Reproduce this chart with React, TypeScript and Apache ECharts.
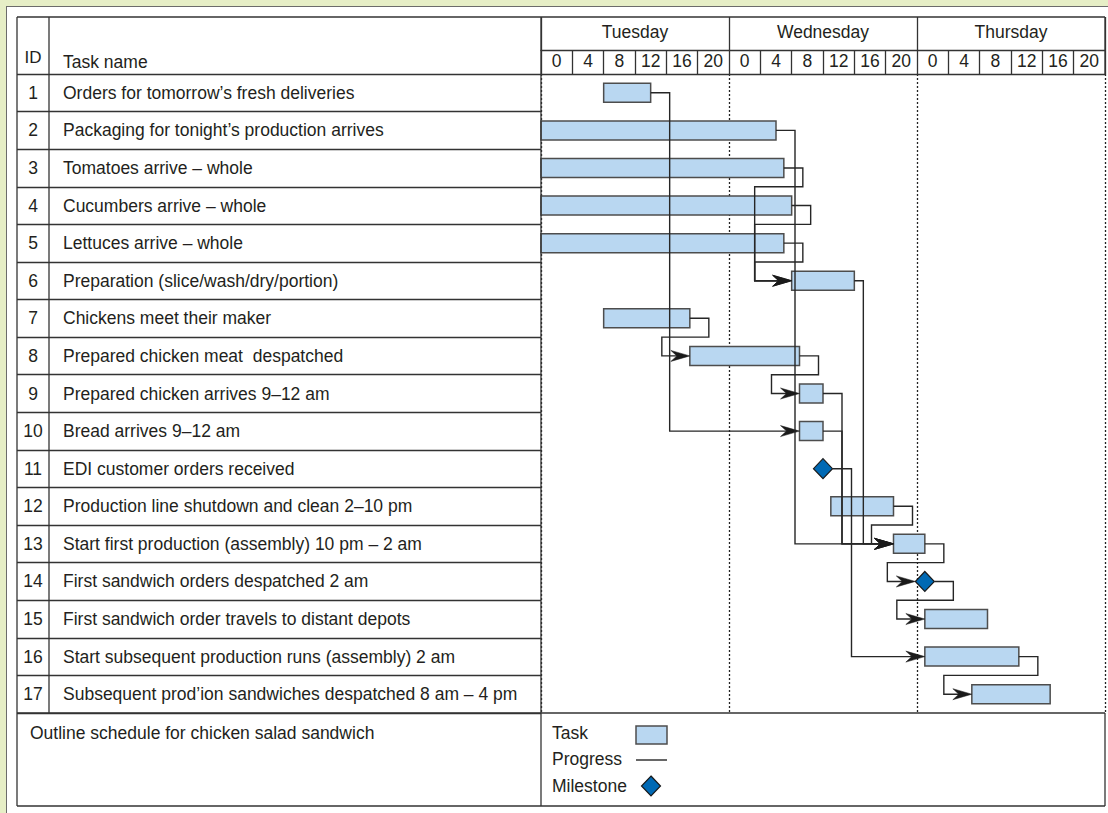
import React, { useEffect, useRef } from "react";
import * as echarts from "echarts";

// ---------- data ----------
const IDS = ["1", "2", "3", "4", "5", "6", "7", "8", "9", "10", "11", "12", "13", "14", "15", "16", "17"];
const TASK_NAMES = [
  "Orders for tomorrow\u2019s fresh deliveries",
  "Packaging for tonight\u2019s production arrives",
  "Tomatoes arrive \u2013 whole",
  "Cucumbers arrive \u2013 whole",
  "Lettuces arrive \u2013 whole",
  "Preparation (slice/wash/dry/portion)",
  "Chickens meet their maker",
  "Prepared chicken meat\u00a0 despatched",
  "Prepared chicken arrives 9\u201312 am",
  "Bread arrives 9\u201312 am",
  "EDI customer orders received",
  "Production line shutdown and clean 2\u201310 pm",
  "Start first production (assembly) 10 pm \u2013 2 am",
  "First sandwich orders despatched 2 am",
  "First sandwich order travels to distant depots",
  "Start subsequent production runs (assembly) 2 am",
  "Subsequent prod\u2019ion sandwiches despatched 8 am \u2013 4 pm",
];
const DAYS = ["Tuesday", "Wednesday", "Thursday"];
const HOUR_TICKS = ["0", "4", "8", "12", "16", "20"];
// hours counted from Tuesday 0:00 (start === end means milestone)
const TASK_START = [8, 0, 0, 0, 0, 32, 8, 19, 33, 33, 36, 37, 45, 49, 49, 49, 55];
const TASK_END = [14, 30, 31, 32, 31, 40, 19, 33, 36, 36, 36, 45, 49, 49, 57, 61, 65];
const LINK_FROM = [1, 2, 3, 4, 5, 6, 7, 8, 9, 10, 11, 12, 13, 14, 16];
const LINK_TO = [10, 13, 6, 6, 6, 13, 8, 9, 13, 13, 16, 13, 14, 15, 17];
const LEGEND_LABELS = ["Task", "Progress", "Milestone"];
const CAPTION = "Outline schedule for chicken salad sandwich";

// ---------- styles ----------
const FONT = "'Liberation Sans', Arial, Helvetica, sans-serif";
const INK = "#231f20";
const RULE = "#333333";
const BAR_FILL = "#b9d7f1";
const BAR_EDGE = "#4d4d4d";
const MS_FILL = "#0069b4";
const FS = 17.5;
const BAR_H = 19;
const MS_W = 19;
const MS_H = 20;
// connector routing style (pixel offsets), by "from-to"
const LOOP_LINKS = ["3-6", "4-6", "5-6", "7-8", "8-9", "12-13", "13-14", "14-15", "16-17"];
const GAP_OVERRIDE: Record<string, number> = { "6-13": 9 };
const BACK_OVERRIDE: Record<string, number> = { "3-6": 37, "4-6": 37, "5-6": 37, "12-13": 22 };

const W = 1108;
const H = 813;
const GL = 541;
const GR = 1105;
const GT = 74;
const GB = 713;
const TL = 17;
const TT = 17;
const TB = 806;

export default function App() {
  const ref = useRef<HTMLDivElement>(null);

  useEffect(() => {
    if (!ref.current) return;
    const chart = echarts.init(ref.current, undefined, { renderer: "svg" });

    const isMs = (i: number) => TASK_START[i] === TASK_END[i];
    const taskData: number[][] = [];
    const msData: number[][] = [];
    TASK_START.forEach((s, i) => {
      if (isMs(i)) msData.push([s, i]);
      else taskData.push([i, s, TASK_END[i]]);
    });
    const linkData = LINK_FROM.map((f, k) => {
      const fi = f - 1;
      const ti = LINK_TO[k] - 1;
      return [fi, TASK_END[fi], ti, TASK_START[ti], isMs(fi) ? 1 : 0, isMs(ti) ? 1 : 0, k];
    });

    const hourCats = DAYS.flatMap((d) => HOUR_TICKS.map((h) => d + "|" + h));

    const line = (x1: number, y1: number, x2: number, y2: number) => ({
      type: "line",
      z: 100,
      shape: { x1, y1, x2, y2 },
      style: { stroke: RULE, lineWidth: 1.3 },
    });
    const text = (t: string, x: number, y: number, align: string, size = FS) => ({
      type: "text",
      z: 100,
      style: {
        text: t,
        x,
        y,
        fill: INK,
        fontSize: size,
        fontFamily: FONT,
        align,
        verticalAlign: "middle",
        textAlign: align,
        textVerticalAlign: "middle",
      },
    });

    const option: any = {
      animation: false,
      textStyle: { fontFamily: FONT },
      grid: { left: GL, right: W - GR, top: GT, bottom: H - GB, containLabel: false },
      xAxis: [
        {
          type: "value",
          position: "bottom",
          min: 0,
          max: 72,
          interval: 24,
          axisLine: { show: false },
          axisTick: { show: false },
          axisLabel: { show: false },
          splitLine: { show: true, lineStyle: { color: "#222", width: 1.3, type: [2, 2] } },
        },
        {
          type: "category",
          position: "top",
          offset: 0,
          data: hourCats,
          axisLine: { show: true, lineStyle: { color: RULE, width: 1.3 } },
          axisTick: { show: true, length: GT - 50, interval: 0, alignWithLabel: false, lineStyle: { color: RULE, width: 1.3 } },
          axisLabel: {
            interval: 0,
            margin: 4,
            color: INK,
            fontSize: FS,
            fontFamily: FONT,
            formatter: (v: string) => v.split("|")[1],
          },
          splitLine: { show: false },
        },
        {
          type: "category",
          position: "top",
          offset: GT - 50,
          data: DAYS,
          axisLine: { show: true, lineStyle: { color: RULE, width: 1.3 } },
          axisTick: { show: true, length: 50 - TT, interval: 0, alignWithLabel: false, lineStyle: { color: RULE, width: 1.3 } },
          axisLabel: { interval: 0, margin: 9, color: INK, fontSize: FS, fontFamily: FONT },
          splitLine: { show: false },
        },
      ],
      yAxis: [
        {
          type: "category",
          inverse: true,
          position: "left",
          data: TASK_NAMES,
          axisLine: { show: false },
          axisTick: { show: true, length: GL - TL, interval: 0, alignWithLabel: false, lineStyle: { color: RULE, width: 1.3 } },
          axisLabel: { interval: 0, align: "left", margin: GL - 63, color: INK, fontSize: FS, fontFamily: FONT },
          splitLine: { show: false },
        },
        {
          type: "category",
          inverse: true,
          position: "left",
          offset: 0,
          data: IDS,
          axisLine: { show: false },
          axisTick: { show: false },
          axisLabel: { interval: 0, align: "center", margin: GL - 33, color: INK, fontSize: FS, fontFamily: FONT },
          splitLine: { show: false },
        },
      ],
      series: [
        {
          type: "custom",
          name: "Task",
          xAxisIndex: 0,
          yAxisIndex: 0,
          z: 2,
          encode: { x: [1, 2], y: 0 },
          data: taskData,
          renderItem: (_p: any, api: any) => {
            const y = api.value(0);
            const s = api.coord([api.value(1), y]);
            const e = api.coord([api.value(2), y]);
            return {
              type: "rect",
              shape: { x: s[0], y: s[1] - BAR_H / 2, width: e[0] - s[0], height: BAR_H },
              style: { fill: BAR_FILL, stroke: BAR_EDGE, lineWidth: 1.5 },
            };
          },
        },
        {
          type: "scatter",
          name: "Milestone",
          xAxisIndex: 0,
          yAxisIndex: 0,
          z: 3,
          symbol: "diamond",
          symbolSize: [MS_W, MS_H],
          itemStyle: { color: MS_FILL, borderColor: "#1a1a1a", borderWidth: 1.2, opacity: 1 },
          data: msData,
        },
        {
          type: "custom",
          name: "Progress",
          xAxisIndex: 0,
          yAxisIndex: 0,
          z: 4,
          encode: { x: [1, 3], y: [0, 2] },
          data: linkData,
          renderItem: (_p: any, api: any) => {
            const k = api.value(6);
            const key = LINK_FROM[k] + "-" + LINK_TO[k];
            const loop = LOOP_LINKS.indexOf(key) >= 0;
            const gap = GAP_OVERRIDE[key] ?? 19;
            const back = BACK_OVERRIDE[key] ?? 28;
            const p0 = api.coord([api.value(1), api.value(0)]);
            const p1 = api.coord([api.value(3), api.value(2)]);
            const band = api.size([0, 1])[1];
            const x0 = p0[0] + (api.value(4) ? MS_W / 2 : 0);
            const y0 = p0[1];
            const x1 = p1[0] - (api.value(5) ? MS_W / 2 : 0);
            const y1 = p1[1];
            const pts = loop
              ? [
                  [x0, y0],
                  [x0 + gap, y0],
                  [x0 + gap, y0 + band / 2],
                  [x1 - back, y0 + band / 2],
                  [x1 - back, y1],
                  [x1 - 8, y1],
                ]
              : [
                  [x0, y0],
                  [x0 + gap, y0],
                  [x0 + gap, y1],
                  [x1 - 8, y1],
                ];
            return {
              type: "group",
              children: [
                {
                  type: "polyline",
                  shape: { points: pts },
                  style: { stroke: "#262626", lineWidth: 1.4, fill: "none" },
                },
                {
                  type: "polygon",
                  shape: {
                    points: [
                      [x1, y1],
                      [x1 - 19, y1 - 5.5],
                      [x1 - 13, y1],
                      [x1 - 19, y1 + 5.5],
                    ],
                  },
                  style: { fill: "#1a1a1a", stroke: "#1a1a1a", lineWidth: 0.5 },
                },
              ],
            };
          },
        },
      ],
      graphic: [
        // table frame
        line(TL, TT, GR, TT),
        line(TL, TT, TL, TB),
        line(TL, TB, GR, TB),
        line(GR, TT, GR, GT),
        line(GR, GB, GR, TB),
        line(49, TT, 49, GB),
        line(GL, TT, GL, TB),
        line(TL, GB, GR, GB),
        // header texts
        text("ID", 33, 57, "center", 17),
        text("Task name", 63, 62, "left"),
        // caption
        text(CAPTION, 30, 733, "left"),
        // legend
        text(LEGEND_LABELS[0], 552, 733, "left"),
        text(LEGEND_LABELS[1], 552, 759, "left"),
        text(LEGEND_LABELS[2], 552, 786, "left"),
        {
          type: "rect",
          z: 100,
          shape: { x: 636, y: 726, width: 31, height: 18 },
          style: { fill: BAR_FILL, stroke: BAR_EDGE, lineWidth: 1.5 },
        },
        {
          type: "line",
          z: 100,
          shape: { x1: 636, y1: 760, x2: 667, y2: 760 },
          style: { stroke: "#262626", lineWidth: 1.4 },
        },
        {
          type: "polygon",
          z: 100,
          shape: {
            points: [
              [651, 786 - MS_H / 2],
              [651 + MS_W / 2, 786],
              [651, 786 + MS_H / 2],
              [651 - MS_W / 2, 786],
            ],
          },
          style: { fill: MS_FILL, stroke: "#1a1a1a", lineWidth: 1.2 },
        },
      ],
    };

    chart.setOption(option);
    return () => chart.dispose();
  }, []);

  return (
    <div
      style={{
        position: "fixed",
        left: 0,
        top: 0,
        width: W,
        height: H,
        background: "#e6eec6",
        overflow: "hidden",
      }}
    >
      <div
        style={{
          position: "absolute",
          left: 6,
          top: 6,
          width: W + 20,
          height: H + 20,
          background: "#ffffff",
          border: "1px solid #6b6b6b",
          boxSizing: "border-box",
        }}
      />
      <div ref={ref} style={{ position: "absolute", left: 0, top: 0, width: W, height: H }} />
    </div>
  );
}
